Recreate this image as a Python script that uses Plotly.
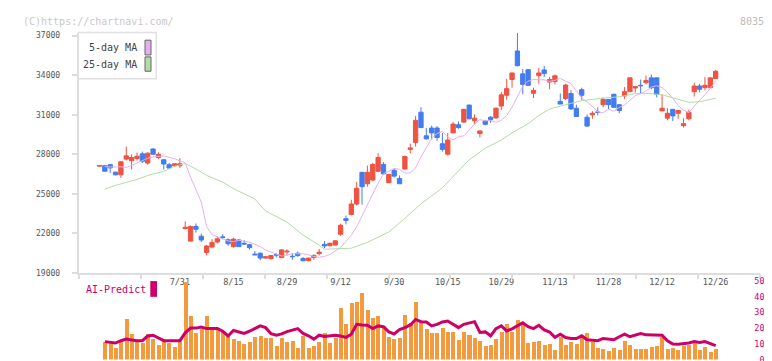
import plotly.graph_objects as go

# ---------------- data ----------------
day_index = list(range(116))  # trading days 7/9 .. 12/26

opens = [27100, 27130, 27210, 26640, 26440, 27630, 27510, 27680, 28030, 27330,
         28400, 27750, 27580, 27210, 27130, 27130, 22360, 21410, 22530, 21780,
         20540, 20960, 21340, 21730, 21510, 20990, 21490, 21240, 21140, 20420,
         20490, 20120, 20070, 20380, 20160, 20590, 20260, 20490, 20090, 19920,
         20160, 20460, 21160, 21060, 21110, 21930, 23110, 23430, 24220, 26630,
         25760, 26040, 26710, 27230, 25840, 26780, 26160, 26880, 28370, 28900,
         31190, 29400, 29990, 29990, 28800, 28000, 29620, 30240, 30440, 31730,
         30540, 29570, 30520, 30810, 30760, 31660, 32480, 33670, 35840, 34100,
         34420, 32630, 33970, 34400, 33480, 33520, 32010, 32230, 32610, 31490,
         32900, 30810, 30990, 31200, 31760, 32160, 32550, 31760, 32430, 32750,
         33030, 33230, 33430, 33800, 33800, 31290, 30740, 31410, 31110, 30170,
         30690, 32750, 33180, 33050, 33050, 33750]
highs = [27160, 27130, 27250, 26680, 27430, 28580, 28000, 28130, 28200, 28150,
         28450, 28150, 27630, 27350, 27300, 27700, 22900, 22600, 22750, 21980,
         21110, 21560, 21760, 21930, 21610, 21650, 21560, 21480, 21210, 20640,
         20540, 20290, 20350, 20490, 20810, 20790, 20490, 20610, 20190, 20150,
         20420, 20810, 21410, 21300, 21480, 22730, 23350, 24550, 25890, 26630,
         27140, 27330, 28080, 27400, 26460, 26960, 26390, 27900, 28800, 30910,
         31560, 29990, 30170, 30140, 29620, 29620, 30440, 30490, 31410, 31780,
         31020, 29800, 30610, 30910, 31560, 32730, 33720, 34170, 37200, 34470,
         34470, 33050, 34550, 34700, 33870, 34050, 32610, 33350, 32850, 31760,
         33050, 31020, 31260, 31560, 32310, 32160, 32600, 31760, 33100, 33800,
         33130, 33670, 33970, 34050, 33800, 32550, 31490, 31410, 31320, 30740,
         31390, 33430, 33350, 33850, 33800, 34400]
lows = [27080, 26710, 26580, 26400, 26210, 27530, 26840, 27530, 27330, 27200,
        27950, 27630, 26840, 26900, 27050, 26960, 22300, 21360, 22050, 21330,
        20310, 20860, 21230, 21560, 21060, 20910, 20990, 21110, 20770, 20340,
        19960, 20070, 20020, 20160, 20120, 20310, 19990, 20220, 19870, 19900,
        19990, 20310, 20870, 21000, 21060, 21810, 22680, 23350, 24100, 24170,
        25540, 25960, 26630, 26460, 25840, 26240, 25760, 26840, 28080, 28580,
        30020, 29120, 29120, 29020, 28200, 27900, 29620, 29940, 30390, 30640,
        30270, 29270, 30190, 30390, 30690, 31360, 32140, 33050, 34670, 32550,
        33190, 32260, 33350, 33870, 32930, 33300, 31810, 32110, 31360, 30870,
        32110, 30070, 30690, 30940, 31560, 31430, 31560, 31110, 32180, 32750,
        32680, 32610, 33300, 32930, 32310, 31290, 30570, 30520, 30690, 30020,
        30570, 32380, 32700, 32850, 33050, 33750]
closes = [27130, 26710, 26960, 26440, 27430, 27880, 27750, 27850, 27460, 28080,
          28000, 28000, 27260, 26960, 27280, 27280, 22460, 22510, 22310, 21490,
          21040, 21310, 21580, 21680, 21210, 21560, 20990, 21190, 20910, 20370,
          20120, 20220, 20310, 20350, 20740, 20640, 20230, 20310, 19920, 20120,
          20310, 20570, 21040, 21240, 21430, 22610, 22980, 24220, 25420, 25540,
          26630, 27230, 27750, 26510, 26460, 26340, 25760, 27830, 28480, 30570,
          30020, 29170, 29620, 29270, 28370, 29080, 30290, 30020, 31410, 30690,
          30740, 29770, 30270, 30640, 31490, 32510, 32980, 34170, 34720, 33300,
          33230, 32850, 34170, 34120, 33670, 33950, 31810, 33250, 31440, 30870,
          32480, 30140, 31110, 31180, 32160, 31760, 31560, 31320, 32750, 33800,
          33130, 33200, 33600, 33050, 32550, 31490, 31110, 30910, 31320, 30320,
          31190, 33180, 32930, 33230, 33800, 34300]

ma5 = [None, 27050, 27020, 27030, 27050, 27000, 27150, 27350, 27520, 27700,
       27800, 27830, 27880, 27760, 27660, 27500, 27350, 26250, 25300, 24370,
       22500, 21900, 21730, 21550, 21420, 21370, 21470, 21400, 21330, 21170,
       21000, 20720, 20560, 20390, 20280, 20350, 20450, 20450, 20450, 20370,
       20240, 20180, 20250, 20390, 20660, 20920, 21380, 21860, 22500, 23340,
       24160, 24960, 25810, 26520, 26730, 26920, 26860, 26570, 26580, 26970,
       27800, 28530, 29210, 29570, 29730, 29290, 29100, 29320, 29400, 29830,
       30300, 30630, 30530, 30580, 30420, 30580, 30940, 31580, 32360, 33170,
       33540, 33680, 33650, 33650, 33530, 33610, 33750, 33540, 33360, 32820,
       32260, 31970, 31640, 31210, 31160, 31410, 31270, 31550, 31750, 32100,
       32450, 32600, 32800, 33100, 33200, 33050, 32700, 32250, 31700, 31350,
       31150, 31650, 32050, 32510, 33000, 33550]

ma25_index = [1, 3, 7, 9, 12, 14, 16, 18, 20, 23, 25, 29, 31, 35, 38, 41, 42, 47,
              50, 54, 57, 60, 64, 69, 72, 75, 77, 80, 82, 84, 87, 90, 94, 97, 100,
              103, 105, 108, 110, 112, 115]
ma25_values = [25350, 25640, 26090, 26390, 26710, 27080, 27290, 26880, 26390, 25890,
               25390, 24600, 23690, 22850, 21860, 21110, 20790, 20870, 21310, 22100,
               23150, 24230, 25460, 27580, 28450, 29080, 29620, 30320, 30940, 31430,
               31760, 32060, 32260, 32360, 32600, 32600, 32510, 32180, 31940, 31990,
               32250]

panel_index = list(range(1, 116))
volume = [10.9, 10.5, 7.2, 10.9, 25.5, 16.1, 11.4, 10.5, 16.1, 13.0,
          9.3, 12.0, 10.5, 7.8, 13.0, 49.0, 27.6, 16.8, 19.7, 27.6,
          18.9, 19.7, 18.2, 16.1, 13.0, 12.0, 9.9, 10.9, 14.1, 15.1,
          13.4, 13.4, 8.4, 13.4, 10.9, 11.6, 7.2, 14.7, 7.2, 8.4,
          10.9, 16.6, 10.5, 13.4, 32.8, 22.4, 35.9, 36.6, 42.2, 31.8,
          26.6, 27.6, 21.4, 14.1, 13.0, 13.4, 28.6, 23.4, 36.6, 23.9,
          19.7, 16.6, 16.6, 20.3, 17.6, 17.2, 12.2, 17.6, 15.9, 13.4,
          11.6, 8.4, 9.3, 13.0, 17.2, 22.8, 17.5, 24.9, 23.0, 10.3,
          10.9, 11.6, 9.3, 9.9, 6.1, 14.1, 9.3, 10.9, 9.9, 14.1,
          16.6, 10.9, 7.2, 6.4, 5.3, 7.2, 6.1, 12.0, 9.3, 6.8,
          6.8, 6.8, 7.8, 8.4, 14.5, 6.8, 7.4, 6.1, 8.9, 9.5,
          11.4, 6.1, 7.8, 5.1, 6.8]
ai_predict = [11.4, 11.0, 10.5, 12.0, 13.0, 12.5, 12.0, 12.0, 15.0, 15.5,
              14.0, 12.0, 12.0, 12.0, 12.0, 17.0, 20.0, 20.0, 20.7, 19.7,
              19.7, 19.7, 18.0, 15.0, 18.5, 17.5, 16.6, 18.0, 19.7, 21.4,
              20.3, 16.5, 15.5, 16.3, 17.8, 19.0, 19.7, 16.6, 15.1, 13.0,
              15.5, 14.7, 15.2, 15.5, 15.0, 14.1, 16.1, 22.4, 22.0, 21.8,
              19.7, 21.4, 20.9, 17.6, 16.3, 19.0, 20.3, 22.0, 25.5, 24.1,
              23.9, 21.4, 22.4, 23.9, 24.5, 22.5, 20.3, 22.4, 23.5, 24.1,
              17.2, 17.6, 15.1, 19.7, 21.4, 18.2, 19.5, 21.4, 23.4, 20.9,
              19.7, 21.8, 18.8, 17.5, 14.1, 16.1, 14.0, 13.4, 13.4, 15.1,
              12.6, 12.3, 12.0, 13.4, 13.0, 12.6, 14.5, 16.1, 14.5, 15.8,
              16.6, 15.7, 15.7, 15.7, 15.5, 12.0, 9.9, 9.7, 9.9, 10.5,
              11.4, 10.9, 11.4, 9.9, 8.9]

tick_index = [15, 25, 35, 45, 55, 65, 75, 85, 95, 105, 115]
tick_labels = ["7/31", "8/15", "8/29", "9/12", "9/30", "10/15", "10/29",
               "11/13", "11/28", "12/12", "12/26"]
price_ticks = [19000, 22000, 25000, 28000, 31000, 34000, 37000]
price_tick_text = ["19000", "22000", "25000", "28000", "31000", "34000", "37000"]
panel_ticks = [0, 10, 20, 30, 40, 50]
panel_tick_text = ["\u20070", "10", "20", "30", "40", "50"]

# ---------------- styling / layout ----------------
W, H = 772, 361
RED = "#ef5341"
BLUE = "#427cf0"
ORANGE = "#f39a3f"
CRIMSON = "#cc0066"
PINK = "#e6b0ee"
GREEN = "#b3dba6"
AXIS = "#dddddd"
MONO = "DejaVu Sans Mono"


def px(x):
    return x / W


def py(y):
    return 1 - y / H


x_dom = [px(70.7), px(752.3)]
main_dom = [py(268.3), py(24)]
low_dom = [py(356.5), py(268.5)]

fig = go.Figure()

fig.add_trace(go.Candlestick(
    x=day_index, open=opens, high=highs, low=lows, close=closes,
    increasing=dict(line=dict(color=RED, width=1), fillcolor=RED),
    decreasing=dict(line=dict(color=BLUE, width=1), fillcolor=BLUE),
    whiskerwidth=0, hoverinfo="skip", xaxis="x", yaxis="y"))

fig.add_trace(go.Scatter(x=day_index, y=ma5, mode="lines",
                         line=dict(color=PINK, width=1), hoverinfo="skip",
                         xaxis="x", yaxis="y"))
fig.add_trace(go.Scatter(x=ma25_index, y=ma25_values, mode="lines",
                         line=dict(color=GREEN, width=1), hoverinfo="skip",
                         xaxis="x", yaxis="y"))

fig.add_trace(go.Bar(x=panel_index, y=volume, marker=dict(color=ORANGE, line=dict(width=0)),
                     width=0.75, hoverinfo="skip", xaxis="x2", yaxis="y2"))
fig.add_trace(go.Scatter(x=panel_index, y=ai_predict, mode="lines",
                         line=dict(color=CRIMSON, width=3), hoverinfo="skip",
                         xaxis="x2", yaxis="y2"))

# helper (invisible) trace so the overlay tick axis renders
fig.add_trace(go.Scatter(x=[0, 11], y=[19000, 19000], mode="markers",
                         marker=dict(opacity=0), hoverinfo="skip",
                         xaxis="x3", yaxis="y"))

x_range = [-3.88, 123.33]

fig.update_layout(
    width=W, height=H,
    margin=dict(l=0, r=0, t=0, b=0),
    paper_bgcolor="white", plot_bgcolor="white",
    showlegend=False,
    boxgap=0.2, boxgroupgap=0,
    bargap=0,
    xaxis=dict(domain=x_dom, range=x_range, anchor="y",
               tickmode="array", tickvals=tick_index, ticktext=tick_labels,
               ticks="", showline=True, linecolor=AXIS, linewidth=2,
               showgrid=False, zeroline=False,
               tickfont=dict(family=MONO, size=8.5, color="#555555"),
               ticklabelstandoff=0,
               rangeslider=dict(visible=False), fixedrange=True),
    xaxis3=dict(domain=x_dom, range=[-0.001, 11.001], anchor="y", overlaying="x",
                side="bottom", tickmode="array", tickvals=list(range(12)),
                ticks="outside", ticklen=5, tickwidth=2, tickcolor=AXIS,
                showticklabels=False, showline=False, showgrid=False,
                zeroline=False),
    yaxis=dict(domain=main_dom, range=[19000, 37232], anchor="x",
               tickmode="array", tickvals=price_ticks, ticktext=price_tick_text,
               ticks="outside", ticklen=5, tickwidth=2, tickcolor=AXIS,
               showline=True, linecolor=AXIS, linewidth=2,
               showgrid=False, zeroline=False,
               tickfont=dict(family=MONO, size=8, color="#555555"),
               ticklabelstandoff=10),
    xaxis2=dict(domain=x_dom, matches="x", anchor="y2", visible=False),
    yaxis2=dict(domain=low_dom, range=[0, 55], anchor="x2", side="right",
                tickmode="array", tickvals=panel_ticks, ticktext=panel_tick_text,
                ticks="", showline=False, showgrid=False, zeroline=False,
                tickfont=dict(family=MONO, size=8.5, color=CRIMSON),
                ticklabelstandoff=-7),
)

shapes = [
    # MA legend frame
    dict(type="rect", xref="paper", yref="paper", x0=px(70.3), x1=px(148.3),
         y0=py(71), y1=py(24), line=dict(color="#e0e0e0", width=1.5),
         fillcolor="white", layer="above"),
    dict(type="rect", xref="paper", yref="paper", x0=px(137), x1=px(143),
         y0=py(46.7), y1=py(31.7), line=dict(color="#666666", width=1),
         fillcolor=PINK, layer="above"),
    dict(type="rect", xref="paper", yref="paper", x0=px(137), x1=px(143),
         y0=py(63.3), y1=py(48.7), line=dict(color="#666666", width=1),
         fillcolor=GREEN, layer="above"),
    # AI-Predict swatch
    dict(type="rect", xref="paper", yref="paper", x0=px(142.3), x1=px(149),
         y0=py(292.7), y1=py(276.7), line=dict(width=0),
         fillcolor=CRIMSON, layer="above"),
]
fig.update_layout(shapes=shapes)

annotations = [
    dict(text="5-day MA", x=px(130.5), y=py(39), xanchor="right", yanchor="middle",
         font=dict(family=MONO, size=10, color="#444444")),
    dict(text="25-day MA", x=px(130.5), y=py(56), xanchor="right", yanchor="middle",
         font=dict(family=MONO, size=10, color="#444444")),
    dict(text="AI-Predict", x=px(75.5), y=py(285.7), xanchor="left", yanchor="middle",
         font=dict(family=MONO, size=10, color=CRIMSON)),
    dict(text="(C)https://chartnavi.com/", x=px(13), y=py(12.5), xanchor="left",
         yanchor="middle", font=dict(family=MONO, size=10, color="#c8c8c8")),
    dict(text="8035", x=px(757.5), y=py(12.5), xanchor="right", yanchor="middle",
         font=dict(family=MONO, size=10, color="#bdbdbd")),
]
for a in annotations:
    a.update(xref="paper", yref="paper", showarrow=False)
fig.update_layout(annotations=annotations)

fig.write_html("out.html")
